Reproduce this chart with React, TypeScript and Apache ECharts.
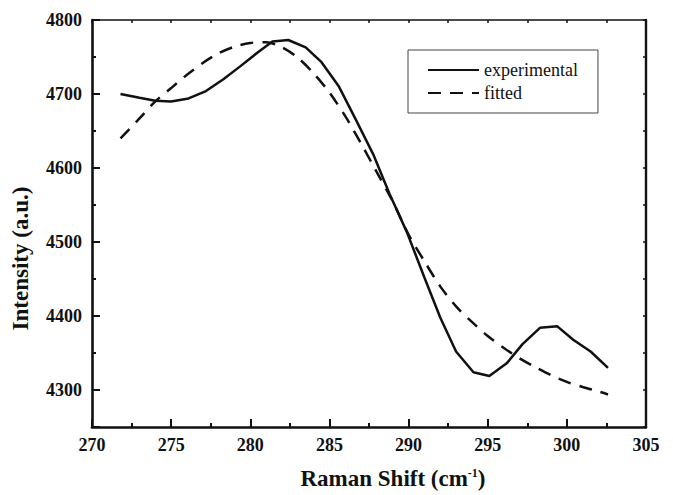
import React, { useEffect, useRef } from "react";
import * as echarts from "echarts";

const expX = [271.8, 273.0, 274.0, 275.0, 276.1, 277.2, 278.3, 279.4, 280.4, 281.4, 282.4, 283.5, 284.5, 285.6, 286.7, 287.8, 288.8, 289.9, 291.0, 292.0, 293.0, 294.1, 295.1, 296.2, 297.2, 298.3, 299.4, 300.4, 301.5, 302.6];
const expY = [4700, 4695, 4691, 4690, 4694, 4704, 4720, 4738, 4755, 4771, 4773, 4763, 4743, 4710, 4664, 4617, 4565, 4513, 4452, 4398, 4352, 4324, 4319, 4336, 4362, 4384, 4386, 4368, 4352, 4330];

const fitX = [271.8, 273, 274, 275, 276, 277, 278, 279, 280, 281, 282, 283, 284, 285, 286, 287, 288, 289, 290, 291, 292, 293, 294, 295, 296, 297, 298, 299, 300, 301, 302, 302.6];
const fitY = [4640, 4667, 4690, 4708, 4726, 4742, 4755, 4764, 4769, 4770, 4763, 4749, 4728, 4702, 4670, 4633, 4594, 4555, 4510, 4474, 4440, 4413, 4392, 4373, 4357, 4343, 4331, 4320, 4311, 4304, 4298, 4294];

const seriesNames = ["experimental", "fitted"];

const FONT = "Liberation Serif";
const INK = "#111";

export default function App() {
  const ref = useRef<HTMLDivElement>(null);
  useEffect(() => {
    if (!ref.current) return;
    const chart = echarts.init(ref.current, undefined, { renderer: "svg" });
    const lineAxis = (w: number) => ({ show: true, lineStyle: { color: INK, width: w } });
    chart.setOption({
      animation: false,
      backgroundColor: "#fff",
      grid: { left: 92, right: 27, top: 20, bottom: 63, containLabel: false },
      legend: {
        orient: "vertical",
        left: 408,
        top: 50,
        padding: [11, 20, 11, 19],
        itemWidth: 51,
        itemHeight: 14,
        itemGap: 5,
        borderColor: "#444",
        borderWidth: 1,
        itemStyle: { opacity: 0 },
        textStyle: { fontFamily: FONT, fontSize: 18, color: INK, lineHeight: 18 },
        data: seriesNames,
      },
      xAxis: [
        {
          type: "value",
          position: "bottom",
          min: 270,
          max: 305,
          interval: 5,
          axisLine: lineAxis(2.6),
          axisTick: { show: true, inside: true, length: 8, lineStyle: { color: INK, width: 2 } },
          minorTick: { show: true, splitNumber: 2, length: 4, lineStyle: { color: INK, width: 2 } },
          splitLine: { show: false },
          axisLabel: { fontFamily: FONT, fontSize: 18, fontWeight: "bold", color: INK, margin: 9, showMaxLabel: true, showMinLabel: true },
          name: "{b|Raman Shift (cm}{s|-1}{b|)}",
          nameLocation: "middle",
          nameGap: 40,
          nameTextStyle: {
            padding: [0, 0, 0, 48],
            rich: {
              b: { fontFamily: FONT, fontSize: 23, fontWeight: "bold", color: INK },
              s: { fontFamily: FONT, fontSize: 12, fontWeight: "bold", color: INK, verticalAlign: "top", padding: [0, 0, 10, 0] },
            },
          },
        },
        {
          type: "value",
          position: "top",
          min: 270,
          max: 305,
          interval: 2.5,
          axisLine: lineAxis(1.6),
          axisTick: { show: true, inside: true, length: 3, lineStyle: { color: INK, width: 1.5 } },
          axisLabel: { show: false },
          splitLine: { show: false },
        },
      ],
      yAxis: [
        {
          type: "value",
          position: "left",
          min: 4250,
          max: 4800,
          interval: 50,
          axisLine: lineAxis(2.6),
          axisTick: { show: true, inside: true, length: 4, lineStyle: { color: INK, width: 2 } },
          splitLine: { show: false },
          axisLabel: {
            fontFamily: FONT,
            fontSize: 18,
            fontWeight: "bold",
            color: INK,
            margin: 10,
            formatter: (v: number) => (v % 100 === 0 ? String(v) : ""),
          },
          name: "Intensity (a.u.)",
          nameLocation: "middle",
          nameGap: 60,
          nameTextStyle: { fontFamily: FONT, fontSize: 23, fontWeight: "bold", color: INK, padding: [0, 70, 0, 0] },
        },
        {
          type: "value",
          position: "right",
          min: 4250,
          max: 4800,
          interval: 50,
          axisLine: lineAxis(2.4),
          axisTick: { show: true, inside: true, length: 3, lineStyle: { color: INK, width: 1.5 } },
          axisLabel: { show: false },
          splitLine: { show: false },
        },
        {
          // major ticks at every 100 on the left axis
          type: "value",
          position: "left",
          inverse: true,
          min: -4800,
          max: -4250,
          interval: 100,
          axisLine: { show: false },
          axisTick: { show: true, inside: true, length: 8, lineStyle: { color: INK, width: 2 } },
          axisLabel: { show: false },
          splitLine: { show: false },
        },
      ],
      series: [
        {
          name: seriesNames[0],
          type: "line",
          xAxisIndex: 0,
          yAxisIndex: 0,
          data: expX.map((x, i) => [x, expY[i]]),
          symbol: "none",
          lineStyle: { color: INK, width: 2.5, type: "solid" },
          itemStyle: { color: INK },
        },
        {
          name: seriesNames[1],
          type: "line",
          xAxisIndex: 0,
          yAxisIndex: 0,
          data: fitX.map((x, i) => [x, fitY[i]]),
          symbol: "none",
          smooth: 0.3,
          lineStyle: { color: INK, width: 2.5, type: [13, 9] },
          itemStyle: { color: INK },
        },
      ],
    });
    return () => chart.dispose();
  }, []);
  return <div ref={ref} style={{ width: 673, height: 495, position: "absolute", left: 0, top: 0 }} />;
}
